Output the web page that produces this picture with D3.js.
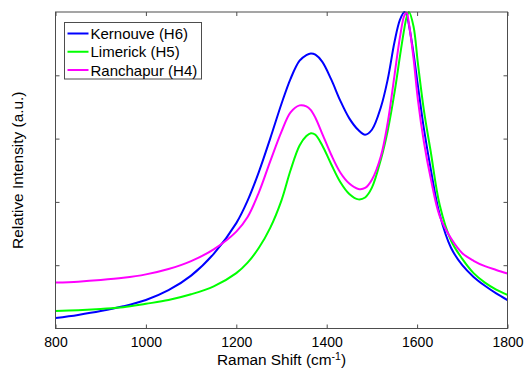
<!DOCTYPE html>
<html>
<head>
<meta charset="utf-8">
<script src="https://cdn.jsdelivr.net/npm/d3@7"></script>
<style>
  body { margin: 0; background: #fff; }
  svg { display: block; font-family: "Liberation Sans", Arial, sans-serif; }
</style>
</head>
<body>
<svg id="chart" width="526" height="370"></svg>
<script>
// raman shift (cm-1) sample positions
const shift = [800, 850, 900, 950, 1000, 1050, 1100, 1150, 1200, 1225, 1250, 1275, 1300, 1320, 1340, 1355, 1365, 1375, 1390, 1410, 1430, 1450, 1470, 1485, 1500, 1520, 1535, 1550, 1562, 1572, 1577, 1582, 1592, 1602, 1615, 1630, 1650, 1675, 1700, 1725, 1750, 1775, 1800];

// relative intensities
const kernouve = [0.033, 0.043, 0.055, 0.070, 0.090, 0.121, 0.167, 0.236, 0.333, 0.404, 0.495, 0.600, 0.710, 0.789, 0.846, 0.864, 0.869, 0.865, 0.843, 0.787, 0.720, 0.664, 0.627, 0.612, 0.628, 0.700, 0.787, 0.905, 0.975, 1.000, 0.990, 0.958, 0.870, 0.765, 0.632, 0.505, 0.360, 0.255, 0.200, 0.163, 0.135, 0.111, 0.090];
const limerick = [0.055, 0.058, 0.062, 0.067, 0.078, 0.090, 0.108, 0.133, 0.175, 0.208, 0.255, 0.318, 0.405, 0.500, 0.578, 0.608, 0.617, 0.612, 0.579, 0.519, 0.463, 0.425, 0.408, 0.414, 0.445, 0.535, 0.625, 0.745, 0.860, 0.950, 0.985, 1.000, 0.955, 0.835, 0.690, 0.560, 0.390, 0.278, 0.220, 0.175, 0.145, 0.123, 0.106];
const ranchapur = [0.145, 0.148, 0.153, 0.160, 0.171, 0.188, 0.213, 0.250, 0.306, 0.352, 0.430, 0.528, 0.622, 0.683, 0.705, 0.702, 0.690, 0.666, 0.616, 0.549, 0.493, 0.458, 0.441, 0.444, 0.470, 0.545, 0.650, 0.800, 0.920, 0.990, 0.998, 0.962, 0.855, 0.720, 0.590, 0.475, 0.355, 0.285, 0.238, 0.214, 0.197, 0.185, 0.174];

const series_names = ['Kernouve (H6)', 'Limerick (H5)', 'Ranchapur (H4)'];
const series_colors = ['#0000ff', '#00ff00', '#ff00ff'];
const x_ticks = [800, 1000, 1200, 1400, 1600, 1800];
const y_ticks = [0.2, 0.4, 0.6, 0.8];

const area = { left: 55.5, right: 507.5, top: 12, bottom: 328.5 };
const font = '"Liberation Sans", Arial, sans-serif';

const svg = d3.select('#chart');

const x_scale = d3.scaleLinear()
  .domain([800, 1800])
  .range([area.left, area.right]);

const y_scale = d3.scaleLinear()
  .domain([0, 1])
  .range([area.bottom, area.top]);

const series = [kernouve, limerick, ranchapur].map((values, i) => ({
  name: series_names[i],
  color: series_colors[i],
  points: shift.map((s, j) => [s, values[j]])
}));

const line = d3.line()
  .x(d => x_scale(d[0]))
  .y(d => y_scale(d[1]))
  .curve(d3.curveCatmullRom.alpha(0.5));

svg.append('clipPath')
  .attr('id', 'clip')
  .append('rect')
  .attr('x', area.left)
  .attr('y', area.top - 2)
  .attr('width', area.right - area.left)
  .attr('height', area.bottom - area.top + 2);

svg.append('g')
  .attr('clip-path', 'url(#clip)')
  .selectAll('path')
  .data(series)
  .enter()
  .append('path')
  .attr('d', d => line(d.points))
  .attr('fill', 'none')
  .attr('stroke', d => d.color)
  .attr('stroke-width', 2);

// axes, matlab style box with inward ticks
const axis_color = '#4d4d4d';

svg.append('g')
  .attr('transform', `translate(0,${area.bottom})`)
  .call(d3.axisBottom(x_scale).tickValues(x_ticks).tickSize(-4).tickPadding(9).tickFormat(d3.format('d')))
  .call(g => g.select('.domain').remove());

svg.append('g')
  .attr('transform', `translate(0,${area.top})`)
  .call(d3.axisTop(x_scale).tickValues(x_ticks).tickSize(-4).tickFormat(''))
  .call(g => g.select('.domain').remove());

svg.append('g')
  .attr('transform', `translate(${area.left},0)`)
  .call(d3.axisLeft(y_scale).tickValues(y_ticks).tickSize(-4).tickFormat(''))
  .call(g => g.select('.domain').remove());

svg.append('g')
  .attr('transform', `translate(${area.right},0)`)
  .call(d3.axisRight(y_scale).tickValues(y_ticks).tickSize(-4).tickFormat(''))
  .call(g => g.select('.domain').remove());

svg.selectAll('.tick line')
  .attr('stroke', axis_color);

svg.selectAll('.tick text')
  .attr('fill', '#000')
  .attr('font-size', 14)
  .attr('font-family', font);

svg.append('rect')
  .attr('x', area.left)
  .attr('y', area.top)
  .attr('width', area.right - area.left)
  .attr('height', area.bottom - area.top)
  .attr('fill', 'none')
  .attr('stroke', axis_color)
  .attr('stroke-width', 1);

// axis labels
const x_label = svg.append('text')
  .attr('x', (area.left + area.right) / 2)
  .attr('y', 364.5)
  .attr('text-anchor', 'middle')
  .attr('font-size', 15.4)
  .attr('fill', '#000');
x_label.append('tspan').text('Raman Shift (cm');
x_label.append('tspan').text('-1').attr('font-size', 10.5).attr('dy', -4.5);
x_label.append('tspan').text(')').attr('dy', 4.5);

svg.append('text')
  .attr('transform', `translate(23,${(area.top + area.bottom) / 2}) rotate(-90)`)
  .attr('text-anchor', 'middle')
  .attr('font-size', 15.4)
  .attr('fill', '#000')
  .text('Relative Intensity (a.u.)');

// legend
const legend = svg.append('g');

legend.append('rect')
  .attr('x', 64.5)
  .attr('y', 22.5)
  .attr('width', 137)
  .attr('height', 56.5)
  .attr('fill', '#fff')
  .attr('stroke', axis_color)
  .attr('stroke-width', 1);

const legend_y = d3.scalePoint()
  .domain(series_names)
  .range([33.5, 70]);

legend.selectAll('line')
  .data(series)
  .enter()
  .append('line')
  .attr('x1', 67.5)
  .attr('x2', 88.5)
  .attr('y1', d => legend_y(d.name))
  .attr('y2', d => legend_y(d.name))
  .attr('stroke', d => d.color)
  .attr('stroke-width', 2);

legend.selectAll('text')
  .data(series)
  .enter()
  .append('text')
  .attr('x', 90.5)
  .attr('y', d => legend_y(d.name) + 5.5)
  .attr('font-size', 15)
  .attr('fill', '#000')
  .text(d => d.name);
</script>
</body>
</html>
